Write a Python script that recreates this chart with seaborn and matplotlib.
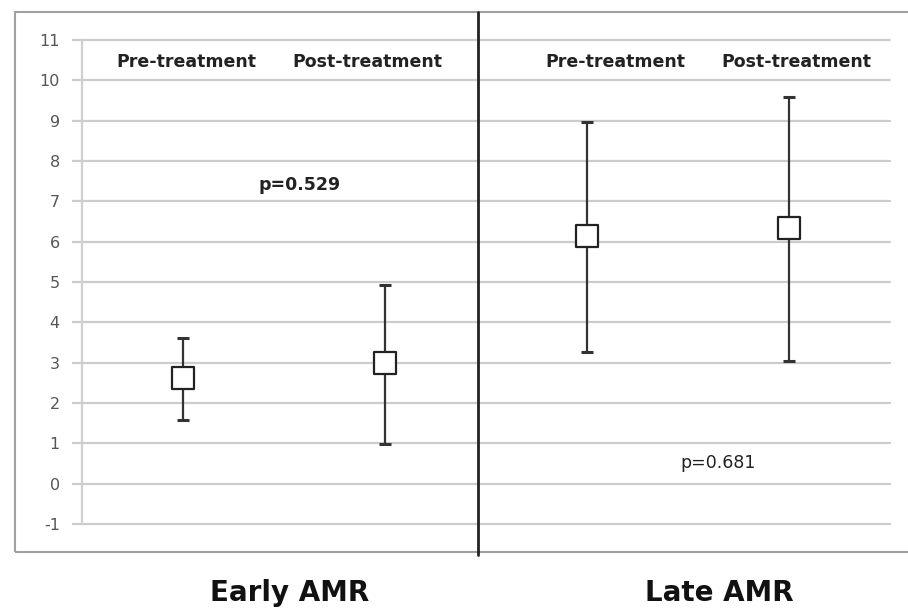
import numpy as np
import pandas as pd
import matplotlib
matplotlib.use("Agg")
import matplotlib.pyplot as plt
import seaborn as sns
from matplotlib.lines import Line2D
from matplotlib.patches import Rectangle

# ---- data ----
groups = ["Early AMR", "Early AMR", "Late AMR", "Late AMR"]
phases = ["Pre-treatment", "Post-treatment", "Pre-treatment", "Post-treatment"]
means = [2.62, 3.0, 6.13, 6.34]
upper = [3.62, 4.93, 8.97, 9.58]
lower = [1.59, 0.99, 3.27, 3.05]
p_values = ["p=0.529", "p=0.681"]
group_names = ["Early AMR", "Late AMR"]
y_ticks = list(range(-1, 12))

df = pd.DataFrame({"group": groups, "phase": phases, "mean": means,
                   "upper": upper, "lower": lower})
df["pos"] = np.arange(len(df)) + 0.5

sns.set_theme(style="white")
plt.rcParams["font.family"] = ["DejaVu Sans"]

fig = plt.figure(figsize=(9.08, 6.09), dpi=100)
W, H = 908, 609
ax = fig.add_axes([82 / W, 1 - 524 / H, (890 - 82) / W, (524 - 40) / H])

# outer frame
fig.patches.append(Rectangle((15 / W, 1 - 552 / H), (W + 5 - 15) / W, (552 - 12) / H,
                             transform=fig.transFigure, fill=False,
                             edgecolor="#a0a0a0", linewidth=1.5, zorder=0))
# divider
fig.lines.append(Line2D([478 / W, 478 / W], [1 - 555 / H, 1 - 12 / H],
                        transform=fig.transFigure, color="#222222", linewidth=2))

ax.set_xlim(0, 4)
ax.set_ylim(-1, 11)
ax.set_yticks(y_ticks)
ax.set_yticklabels([str(t) for t in y_ticks], fontsize=11.5, color="#555555")
ax.set_xticks([])
for t in y_ticks:
    ax.axhline(t, color="#cccccc", linewidth=1.6, zorder=1, clip_on=False)
for s in ["top", "right", "bottom"]:
    ax.spines[s].set_visible(False)
ax.spines["left"].set_color("#d0d0d0")
ax.spines["left"].set_linewidth(1.6)
ax.tick_params(axis="y", length=7, width=1.6, color="#cccccc", pad=9, left=True)
ax.patch.set_alpha(0)

ax.errorbar(df["pos"], df["mean"],
            yerr=[df["mean"] - df["lower"], df["upper"] - df["mean"]],
            fmt="none", ecolor="#333333", elinewidth=1.6, capsize=4.5, capthick=2.2,
            zorder=3)
sns.scatterplot(data=df, x="pos", y="mean", marker="s", s=230, color="white",
                edgecolor="#222222", linewidth=1.6, ax=ax, zorder=4, legend=False)
ax.set_xlabel("")
ax.set_ylabel("")

# column headers
hdr_x = [186, 367, 615, 796]
for x, lab in zip(hdr_x, phases):
    ax.text((x - 82) / 808, 1 - (62 - 40) / 484, lab, transform=ax.transAxes,
            ha="center", va="center", fontsize=12.5, fontweight="bold", color="#222222")

ax.text((300 - 82) / 808, 1 - (185 - 40) / 484, p_values[0], transform=ax.transAxes,
        ha="center", va="center", fontsize=12.5, fontweight="semibold", color="#222222")
ax.text((718 - 82) / 808, 1 - (463 - 40) / 484, p_values[1], transform=ax.transAxes,
        ha="center", va="center", fontsize=12.5, color="#222222")

for x, lab in zip([290, 719], group_names):
    fig.text(x / W, 1 - 593 / H, lab, ha="center", va="center", fontsize=20,
             fontweight="bold", color="#111111")

fig.savefig("out.png", dpi=100)
